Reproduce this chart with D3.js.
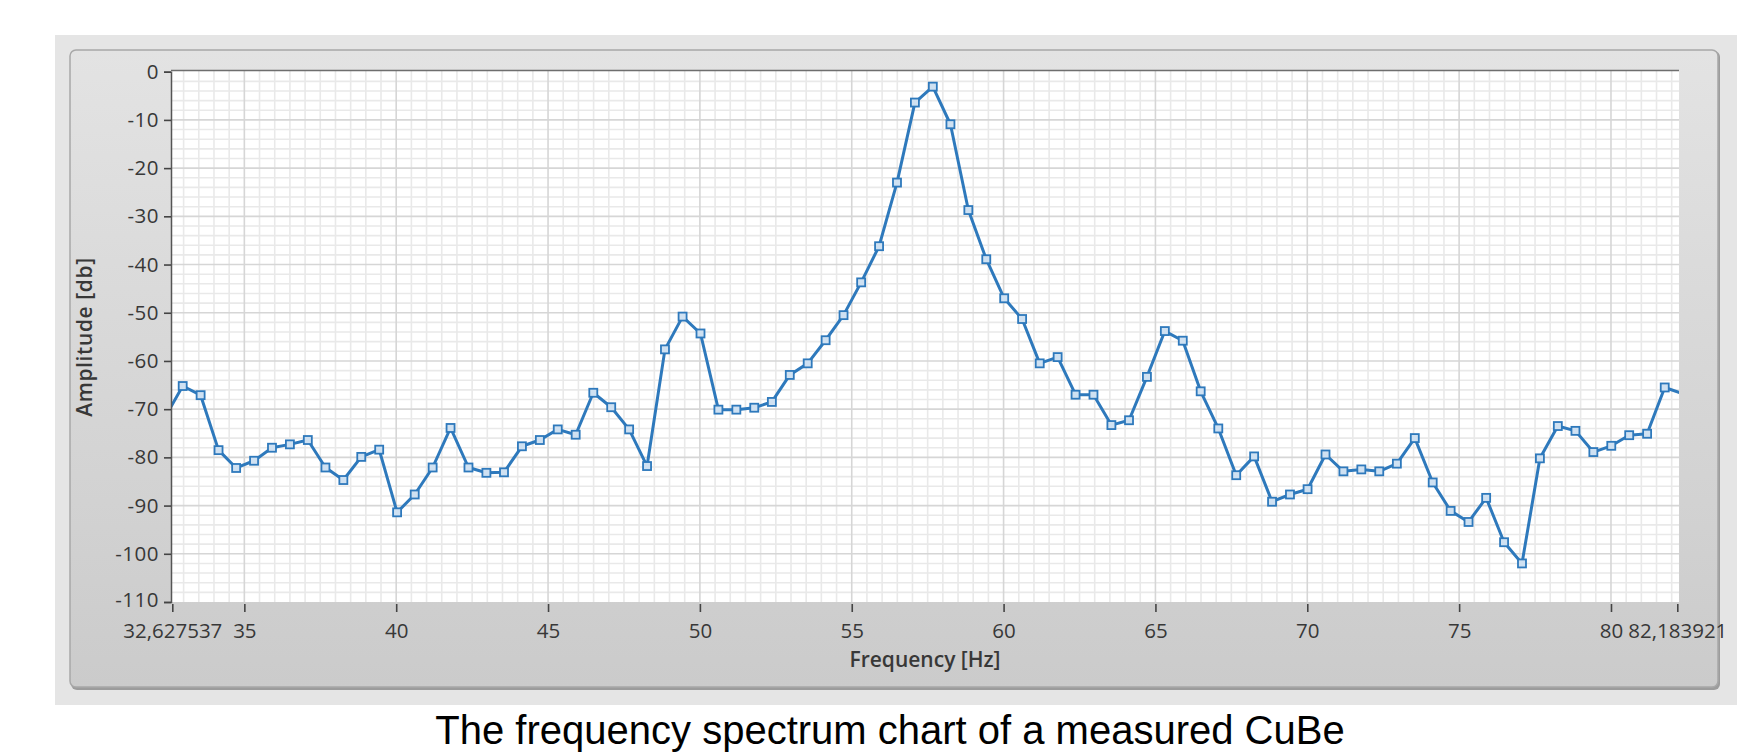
<!DOCTYPE html>
<html>
<head>
<meta charset="utf-8">
<script src="https://cdn.jsdelivr.net/npm/d3@7"></script>
<style>
  html, body { margin: 0; padding: 0; background: #ffffff; }
  svg { display: block; }
</style>
</head>
<body>
<svg id="chart" width="1763" height="755"></svg>
<script>
// ---- data ----
const frequencies = [
  32.38, 32.97, 33.56, 34.15, 34.73, 35.32, 35.91, 36.50, 37.09, 37.67,
  38.26, 38.85, 39.44, 40.03, 40.61, 41.20, 41.79, 42.38, 42.97, 43.55,
  44.14, 44.73, 45.32, 45.91, 46.49, 47.08, 47.67, 48.26, 48.85, 49.43,
  50.02, 50.61, 51.20, 51.79, 52.37, 52.96, 53.55, 54.14, 54.73, 55.31,
  55.90, 56.49, 57.08, 57.67, 58.25, 58.84, 59.43, 60.02, 60.61, 61.19,
  61.78, 62.37, 62.96, 63.55, 64.13, 64.72, 65.31, 65.90, 66.49, 67.07,
  67.66, 68.25, 68.84, 69.43, 70.01, 70.60, 71.19, 71.78, 72.37, 72.95,
  73.54, 74.13, 74.72, 75.31, 75.89, 76.48, 77.07, 77.66, 78.25, 78.83,
  79.42, 80.01, 80.60, 81.19, 81.77, 82.36
];
const amplitudes = [
  -71.8, -65.2, -67.1, -78.5, -82.2, -80.7, -78.0, -77.3, -76.4, -82.1,
  -84.7, -79.9, -78.4, -91.4, -87.7, -82.1, -73.9, -82.1, -83.2, -83.1,
  -77.7, -76.4, -74.2, -75.3, -66.6, -69.6, -74.2, -81.8, -57.6, -50.8,
  -54.3, -70.1, -70.1, -69.7, -68.5, -62.9, -60.5, -55.7, -50.5, -43.7,
  -36.2, -23.0, -6.4, -3.1, -10.9, -28.7, -38.9, -47.0, -51.3, -60.5,
  -59.2, -67.0, -67.0, -73.3, -72.3, -63.3, -53.8, -55.8, -66.3, -74.0,
  -83.7, -79.8, -89.2, -87.7, -86.6, -79.4, -82.9, -82.5, -82.9, -81.3,
  -76.0, -85.2, -91.1, -93.4, -88.4, -97.6, -102.0, -80.2, -73.5, -74.5,
  -78.9, -77.6, -75.4, -75.1, -65.5, -66.8
];
const xDomain = [32.627537, 82.183921];
const yDomain = [-110, 0];
const xTickValues = [32.627537, 35, 40, 45, 50, 55, 60, 65, 70, 75, 80, 82.183921];
const xTickLabels = ["32,627537", "35", "40", "45", "50", "55", "60", "65", "70", "75", "80", "82,183921"];
const yTickValues = [0, -10, -20, -30, -40, -50, -60, -70, -80, -90, -100, -110];
const yTickLabels = ["0", "-10", "-20", "-30", "-40", "-50", "-60", "-70", "-80", "-90", "-100", "-110"];
const xTitle = "Frequency [Hz]";
const yTitle = "Amplitude [db]";
const caption = "The frequency spectrum chart of a measured CuBe";

// ---- layout ----
const svg = d3.select("#chart");
const plot = { left: 171, right: 1679, top: 71, bottom: 602 };
const x = d3.scaleLinear().domain(xDomain).range([172.3, 1677.3]);
const y = d3.scaleLinear().domain(yDomain).range([plot.bottom, 71.7]);
const labelFont = "'Open Sans', 'Noto Sans', sans-serif";
const textColor = "#383838";

const defs = svg.append("defs");
const grad = defs.append("linearGradient").attr("id", "panelGrad")
  .attr("x1", 0).attr("y1", 0).attr("x2", 0).attr("y2", 1);
grad.append("stop").attr("offset", "0%").attr("stop-color", "#e3e3e3");
grad.append("stop").attr("offset", "100%").attr("stop-color", "#cbcbcb");
defs.append("clipPath").attr("id", "plotClip")
  .append("rect").attr("x", plot.left).attr("y", plot.top)
  .attr("width", plot.right - plot.left).attr("height", plot.bottom - plot.top);

// outer light background
svg.append("rect").attr("x", 55).attr("y", 35).attr("width", 1682).attr("height", 670)
  .attr("fill", "#e5e5e5");
// panel shadow + panel
svg.append("rect").attr("x", 71).attr("y", 51).attr("width", 1649).attr("height", 639)
  .attr("rx", 6).attr("fill", "#9c9c9c");
svg.append("rect").attr("x", 70).attr("y", 50).attr("width", 1648).attr("height", 637)
  .attr("rx", 6).attr("fill", "url(#panelGrad)").attr("stroke", "#a8a8a8").attr("stroke-width", 1.5);

// plot background
svg.append("rect").attr("x", plot.left).attr("y", plot.top)
  .attr("width", plot.right - plot.left).attr("height", plot.bottom - plot.top)
  .attr("fill", "#ffffff");

// grid
const grid = svg.append("g").attr("clip-path", "url(#plotClip)");
const minorX = d3.range(33, 82.01, 0.5).filter(v => v % 5 !== 0);
const minorY = d3.range(-108, -1, 2).filter(v => v % 10 !== 0);
grid.selectAll(".mx").data(minorX).join("line")
  .attr("x1", d => x(d)).attr("x2", d => x(d)).attr("y1", plot.top).attr("y2", plot.bottom)
  .attr("stroke", "#e9e9e9").attr("stroke-width", 1.6);
grid.selectAll(".my").data(minorY).join("line")
  .attr("y1", d => y(d)).attr("y2", d => y(d)).attr("x1", plot.left).attr("x2", plot.right)
  .attr("stroke", "#e9e9e9").attr("stroke-width", 1.6);
grid.selectAll(".Mx").data(xTickValues.slice(1, -1)).join("line")
  .attr("x1", d => x(d)).attr("x2", d => x(d)).attr("y1", plot.top).attr("y2", plot.bottom)
  .attr("stroke", "#d6d6d6").attr("stroke-width", 1.6);
grid.selectAll(".My").data(yTickValues.slice(1, -1)).join("line")
  .attr("y1", d => y(d)).attr("y2", d => y(d)).attr("x1", plot.left).attr("x2", plot.right)
  .attr("stroke", "#d6d6d6").attr("stroke-width", 1.6);

// data line + markers
const dataPts = frequencies.map((f, i) => ({ f, a: amplitudes[i] }));
const lineGen = d3.line().x(d => x(d.f)).y(d => y(d.a));
const series = svg.append("g").attr("clip-path", "url(#plotClip)");
series.append("path").datum(dataPts).attr("d", lineGen)
  .attr("fill", "none").attr("stroke", "#2e79bc").attr("stroke-width", 3)
  .attr("stroke-linejoin", "round");
series.selectAll(".mk").data(dataPts.filter(d => d.f >= xDomain[0] && d.f <= xDomain[1])).join("rect")
  .attr("x", d => x(d.f) - 4).attr("y", d => y(d.a) - 4)
  .attr("width", 8).attr("height", 8)
  .attr("fill", "#cfe1f2").attr("stroke", "#2e79bc").attr("stroke-width", 1.8);

// plot border (top)
svg.append("line").attr("x1", plot.left).attr("x2", plot.right).attr("y1", 70.5).attr("y2", 70.5)
  .attr("stroke", "#6e6e6e").attr("stroke-width", 1.5);

// y axis
const yAxis = d3.axisLeft(y).tickValues(yTickValues)
  .tickFormat((d, i) => yTickLabels[i]).tickSize(7).tickPadding(5);
const gy = svg.append("g").attr("transform", `translate(${plot.left},0)`).call(yAxis);
gy.select(".domain").attr("stroke", "#555").attr("stroke-width", 1.5);
gy.selectAll(".tick line").attr("stroke", "#444").attr("stroke-width", 1.6);
gy.selectAll(".tick text").attr("font-family", labelFont).attr("font-size", 20.5)
  .attr("letter-spacing", 0.5).attr("fill", textColor)
  .attr("dy", (d, i) => i === yTickValues.length - 1 ? "0.2em" : "0.32em");

// x axis
const xAxis = d3.axisBottom(x).tickValues(xTickValues)
  .tickFormat((d, i) => xTickLabels[i]).tickSize(8).tickPadding(11);
const gx = svg.append("g").attr("transform", `translate(0,${plot.bottom + 2})`).call(xAxis);
gx.select(".domain").remove();
gx.selectAll(".tick line").attr("stroke", "#444").attr("stroke-width", 1.6);
gx.selectAll(".tick text").attr("font-family", labelFont).attr("font-size", 20.5)
  .attr("fill", textColor);

// axis titles
svg.append("text").attr("x", 925).attr("y", 667).attr("text-anchor", "middle")
  .attr("font-family", labelFont).attr("font-size", 21).attr("font-weight", 600)
  .attr("fill", textColor).text(xTitle);
svg.append("text").attr("transform", "translate(92,337) rotate(-90)").attr("text-anchor", "middle")
  .attr("font-family", labelFont).attr("font-size", 21).attr("font-weight", 600)
  .attr("letter-spacing", 0.6).attr("fill", textColor).text(yTitle);

// caption
svg.append("text").attr("x", 890).attr("y", 744).attr("text-anchor", "middle")
  .attr("font-family", "'Liberation Sans', Arial, sans-serif").attr("font-size", 40)
  .attr("fill", "#000").text(caption);
</script>
</body>
</html>
